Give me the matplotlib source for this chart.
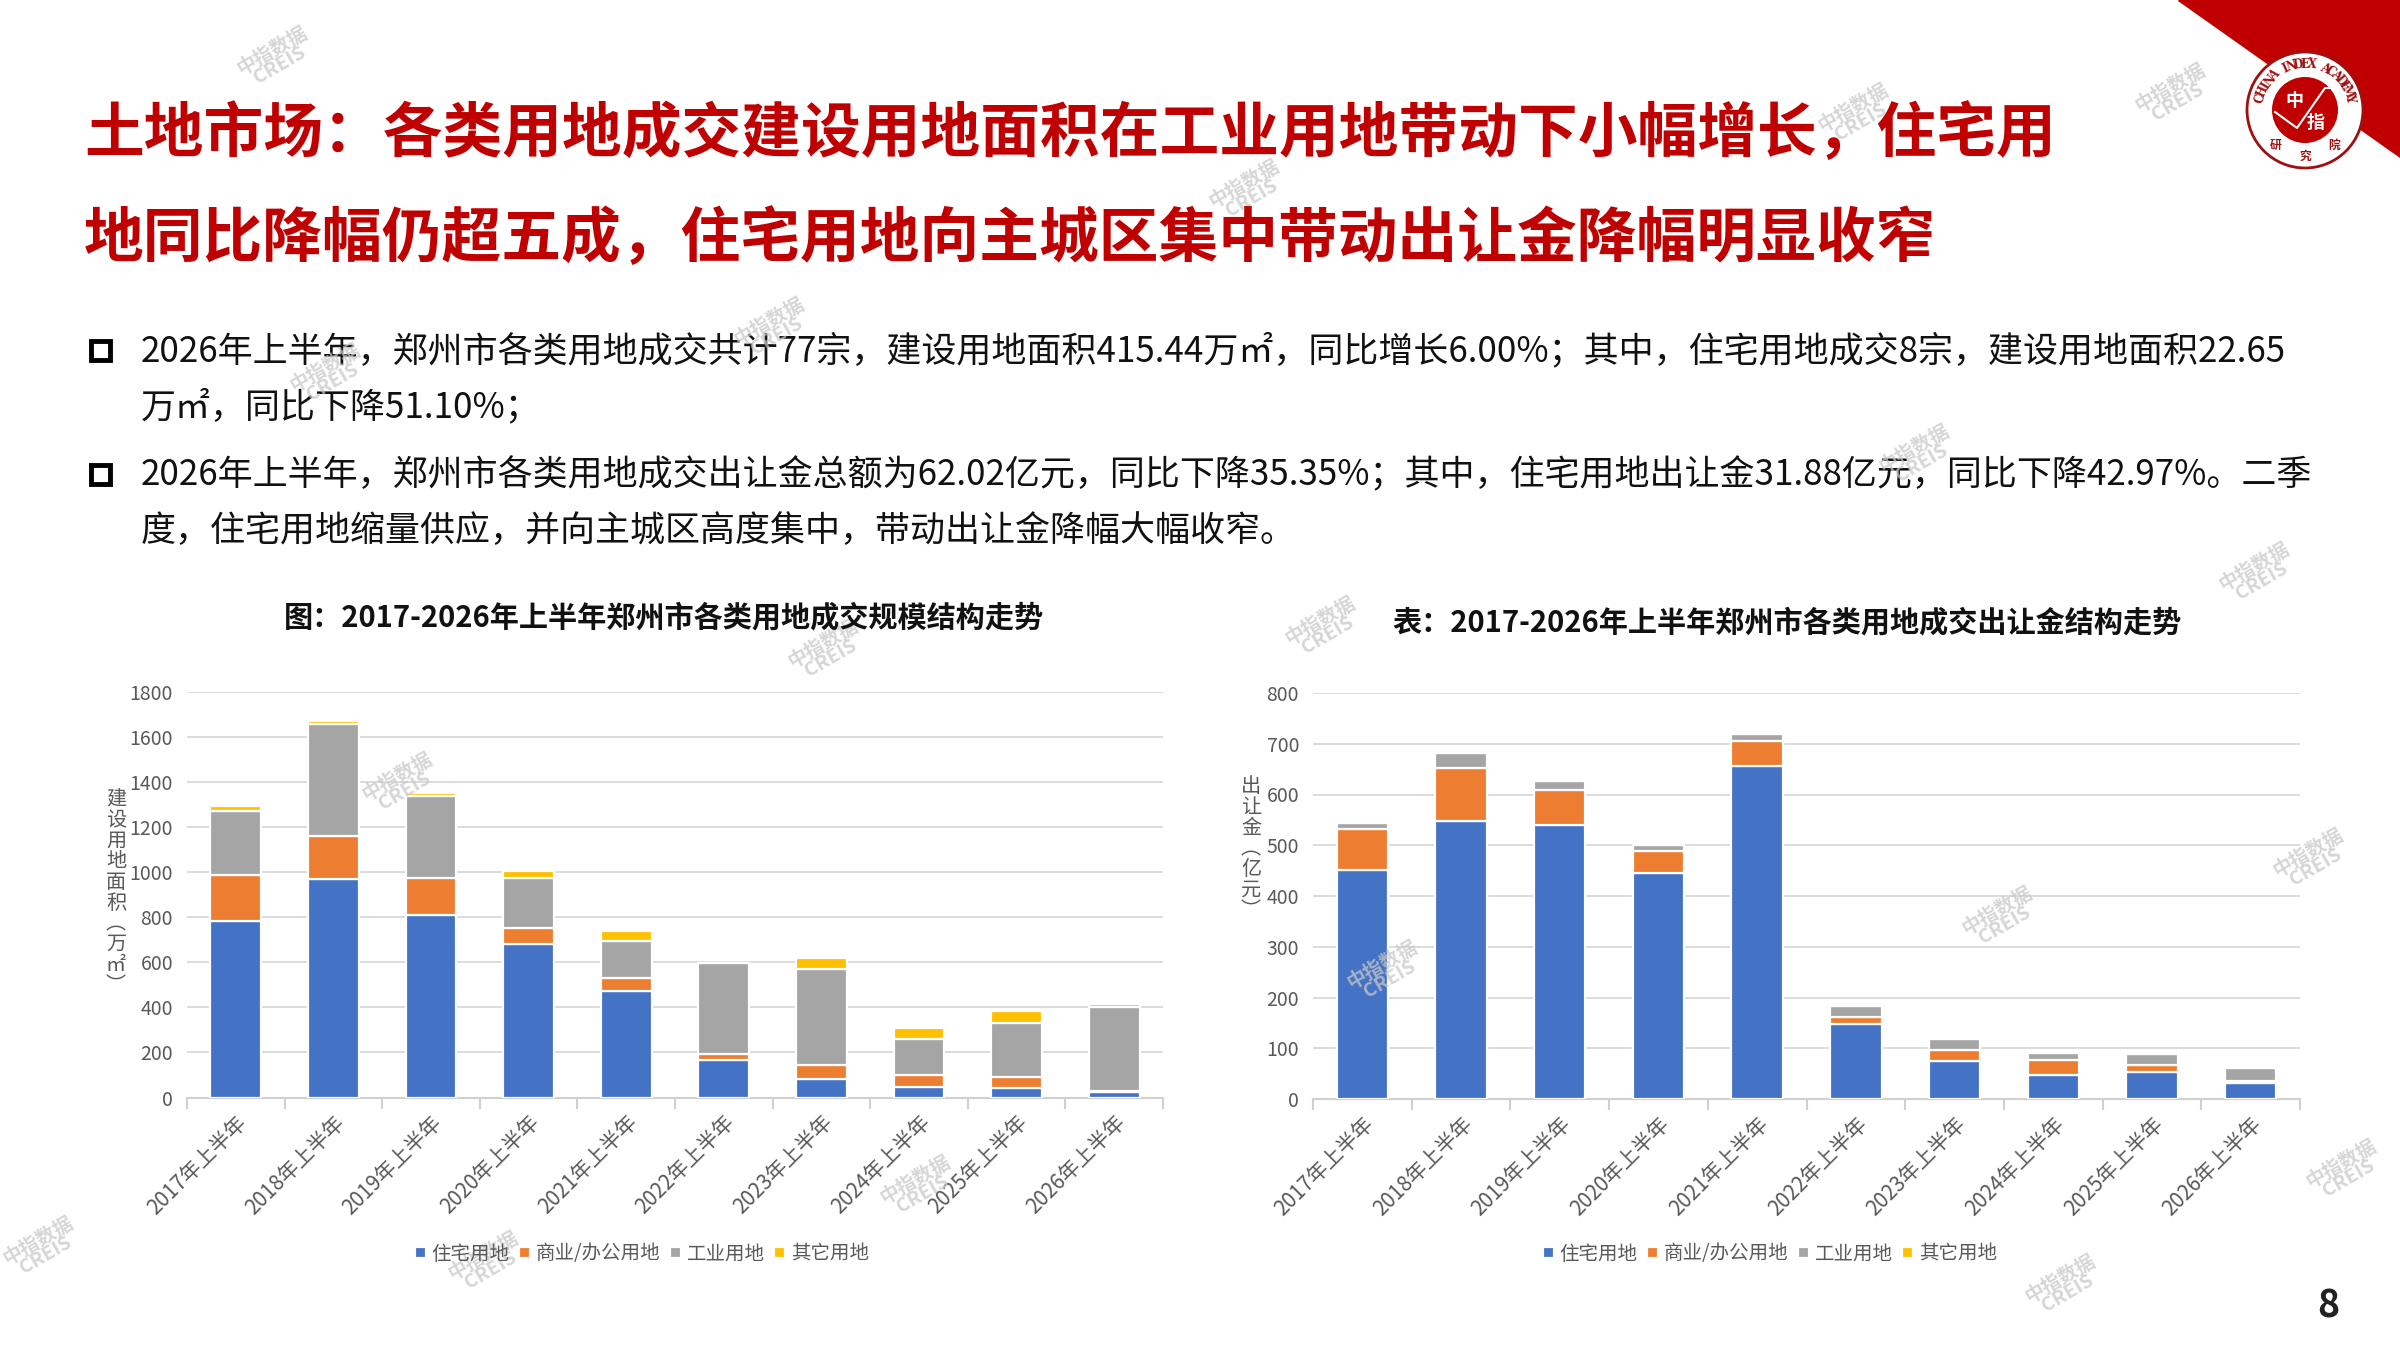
import numpy as np
import matplotlib
matplotlib.use('Agg')
import matplotlib.pyplot as plt
from matplotlib.patches import Polygon, Circle, Rectangle

plt.rcParams['font.family'] = ['Noto Sans CJK SC', 'DejaVu Sans']

# 数据
years = ['2017年上半年', '2018年上半年', '2019年上半年', '2020年上半年', '2021年上半年',
         '2022年上半年', '2023年上半年', '2024年上半年', '2025年上半年', '2026年上半年']
series_names = ['住宅用地', '商业/办公用地', '工业用地', '其它用地']
colors = ['#4472C4', '#ED7D31', '#A5A5A5', '#FFC000']

# 建设用地面积（万㎡）
area_res = [785, 971, 809, 680, 474, 166, 83, 47, 40, 22.65]
area_com = [204, 189, 167, 72, 56, 27, 62, 51, 50, 8]
area_ind = [284, 499, 364, 224, 165, 402, 426, 160, 241, 370]
area_oth = [21, 13, 12, 28, 43, 0, 50, 50, 55, 14.8]

# 出让金（亿元）
fee_res = [451, 547, 540, 446, 656, 147, 75, 47, 53, 31.88]
fee_com = [81, 105, 69, 43, 49, 14, 22, 29, 14, 4.5]
fee_ind = [11, 29, 18, 11, 15, 23, 22, 15, 21, 25.5]
fee_oth = [0, 0, 0, 0, 2, 0, 3, 4, 4, 0.14]

W, H = 2400, 1350
fig = plt.figure(figsize=(24, 13.5), dpi=100)
fig.patch.set_facecolor('white')


def draw_chart(rect, stacks, ymax, ystep, ylabel, ylabel_xy, title, title_xy, legend_x):
    ax = fig.add_axes(rect)
    x = np.arange(len(years))
    bottom = np.zeros(len(years))
    for vals, name, c in zip(stacks, series_names, colors):
        vals = np.array(vals, dtype=float)
        ax.bar(x, vals, bottom=bottom, width=0.52, color=c, edgecolor='white',
               linewidth=1.6, label=name, zorder=3)
        bottom += vals
    ax.set_ylim(0, ymax)
    ax.set_xlim(-0.5, len(years) - 0.5)
    ax.set_yticks(np.arange(0, ymax + 1, ystep))
    ax.yaxis.grid(True, color='#d9d9d9', linewidth=1.3)
    ax.set_axisbelow(True)
    for s in ['top', 'right', 'left']:
        ax.spines[s].set_visible(False)
    ax.spines['bottom'].set_color('#d0d0d0')
    ax.spines['bottom'].set_linewidth(1.5)
    ax.tick_params(axis='y', length=0, pad=10, labelsize=14, labelcolor='#595959')
    ax.set_xticks(x)
    ax.set_xticklabels(years, rotation=45, ha='right', va='top',
                       rotation_mode='anchor', fontsize=15, color='#595959')
    ax.tick_params(axis='x', which='major', length=0, pad=10)
    ax.set_xticks(np.arange(-0.5, len(years), 1), minor=True)
    ax.tick_params(axis='x', which='minor', length=8, width=1.5, color='#d0d0d0')
    # 竖排坐标轴标题
    fig.text(ylabel_xy[0] / W, 1 - ylabel_xy[1] / H, '\n'.join(ylabel), ha='center',
             va='center', fontsize=14.5, color='#595959', linespacing=0.98)
    fig.text(title_xy[0] / W, 1 - title_xy[1] / H, title, ha='center', va='center',
             fontsize=21, fontweight='bold', color='#111111')
    fig.legend(*ax.get_legend_handles_labels(), loc='center',
               bbox_to_anchor=(legend_x / W, 1 - 1254 / H), ncol=4, frameon=False,
               fontsize=14, handlelength=0.55, handleheight=0.55, handletextpad=0.3,
               columnspacing=0.5, labelcolor='#595959')
    return ax


draw_chart([187 / W, 1 - 1097.5 / H, 976 / W, 405.5 / H],
           [area_res, area_com, area_ind, area_oth], 1800, 200,
           '建设用地面积︵万㎡︶', (116, 893),
           '图：2017-2026年上半年郑州市各类用地成交规模结构走势', (664, 617), 642)
draw_chart([1313 / W, 1 - 1099 / H, 987 / W, 406 / H],
           [fee_res, fee_com, fee_ind, fee_oth], 800, 100,
           '出让金︵亿元︶', (1251, 849),
           '表：2017-2026年上半年郑州市各类用地成交出让金结构走势', (1787, 622), 1770)

# 页面装饰层（像素坐标）
ov = fig.add_axes([0, 0, 1, 1], facecolor='none')
ov.set_xlim(0, W)
ov.set_ylim(H, 0)
ov.axis('off')

red = '#C00000'
ov.add_patch(Polygon([(2178, 0), (2400, 0), (2400, 157)], closed=True, color=red, zorder=1))

# 标志
cx, cy = 2305, 110
ov.add_patch(Circle((cx, cy), 58, facecolor='white', edgecolor='#a01010', linewidth=2, zorder=2))
ov.add_patch(Circle((cx, cy), 33, facecolor=red, edgecolor='none', zorder=3))
ov.text(cx - 11, cy - 9, '中', color='white', fontsize=13, fontweight='bold', ha='center', va='center', zorder=4)
ov.text(cx + 11, cy + 13, '指', color='white', fontsize=13, fontweight='bold', ha='center', va='center', zorder=4)
ov.plot([cx - 30, cx - 8, cx + 20, cx + 40], [cy + 2, cy + 18, cy - 22, cy - 22], color='white', lw=1.5, zorder=4)
ring = 'CHINA INDEX ACADEMY'
angs = np.linspace(195, 345, len(ring))
for ch, a in zip(ring, angs):
    r = 46
    px_ = cx + r * np.cos(np.radians(a))
    py_ = cy + r * np.sin(np.radians(a))
    ov.text(px_, py_, ch, fontsize=8.5, color='#a01010', ha='center', va='center',
            rotation=-(a + 90) % 360, family='DejaVu Serif', fontweight='bold', zorder=4)
for ch, a in zip('研究院', [130, 90, 50]):
    ov.text(cx + 46 * np.cos(np.radians(a)), cy + 46 * np.sin(np.radians(a)), ch,
            fontsize=8.5, color='#a01010', ha='center', va='center', fontweight='bold', zorder=4)

# 大标题
ov.text(84, 135, '土地市场：各类用地成交建设用地面积在工业用地带动下小幅增长，住宅用',
        fontsize=43, fontweight='heavy', color=red, ha='left', va='center')
ov.text(84, 240, '地同比降幅仍超五成，住宅用地向主城区集中带动出让金降幅明显收窄',
        fontsize=43, fontweight='heavy', color=red, ha='left', va='center')

# 要点
lines = [
    (351, '2026年上半年，郑州市各类用地成交共计77宗，建设用地面积415.44万㎡，同比增长6.00%；其中，住宅用地成交8宗，建设用地面积22.65', True),
    (407, '万㎡，同比下降51.10%；', False),
    (475, '2026年上半年，郑州市各类用地成交出让金总额为62.02亿元，同比下降35.35%；其中，住宅用地出让金31.88亿元，同比下降42.97%。二季', True),
    (531, '度，住宅用地缩量供应，并向主城区高度集中，带动出让金降幅大幅收窄。', False),
]
for y, t, bullet in lines:
    ov.text(141, y, t, fontsize=25.2, color='#111111', ha='left', va='center')
    if bullet:
        ov.add_patch(Rectangle((91, y - 10), 19, 19, facecolor='white', edgecolor='black', linewidth=3.5))

# 页码
ov.text(2328, 1306, '8', fontsize=27, fontweight='bold', color='#222222', ha='center', va='center')

# 水印
marks = [(276, 58), (1857, 115), (2174, 95), (1248, 191), (773, 329), (329, 375), (1918, 456),
         (2258, 574), (827, 651), (1324, 628), (401, 784), (2001, 918), (2312, 860), (1386, 972),
         (2345, 1171), (919, 1187), (487, 1263), (2064, 1286), (42, 1248)]
for mx, my in marks:
    ov.text(mx, my, '中指数据\nCREIS', fontsize=14, color='#c8c8c8', alpha=0.75, ha='center',
            va='center', rotation=30, linespacing=0.85, fontweight='bold', zorder=10)

fig.savefig('out.png', dpi=100, facecolor='white')
